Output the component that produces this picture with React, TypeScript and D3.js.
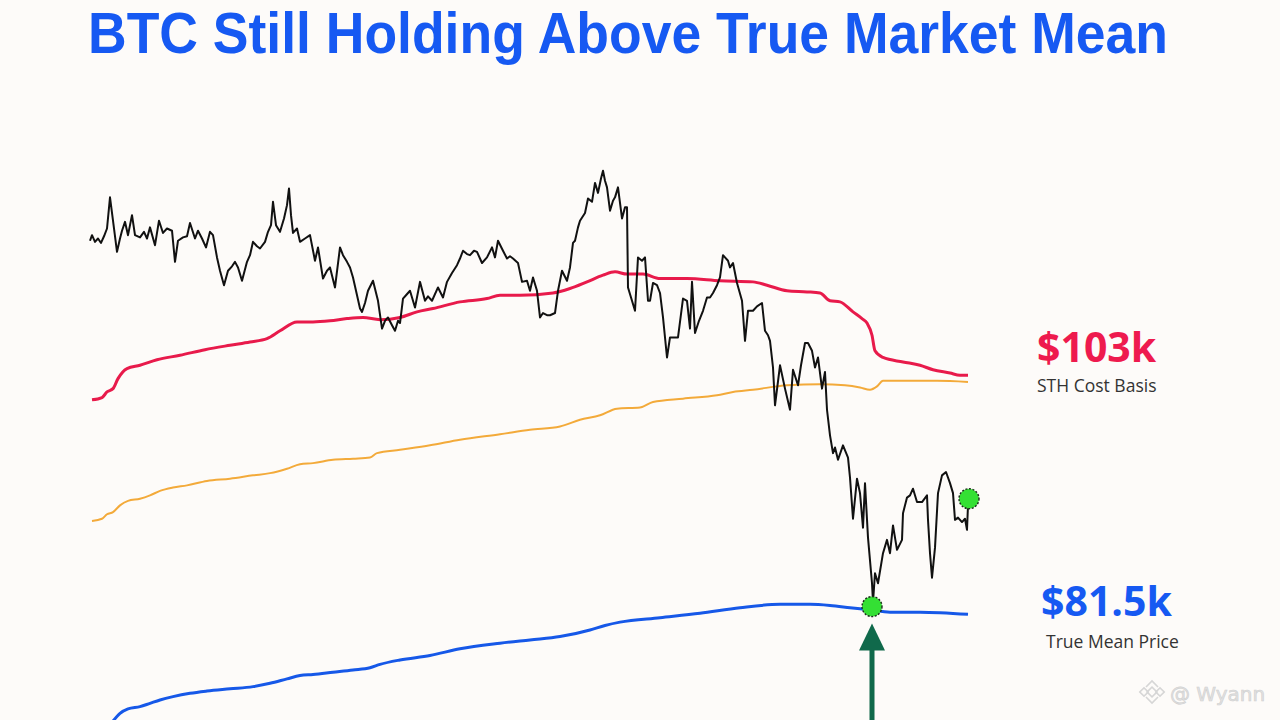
import React from "react";
import * as d3 from "d3";

// t = 8-hour period index, v = price in $k
const priceSeries: [number, number][] = [
  [0, 115.1], [1, 115.6], [2.5, 115.0], [4, 115.3], [5.5, 114.9], [7, 115.5], [8.5, 116.2], [10, 119.0],
  [11.5, 116.9], [13.5, 114.1], [15, 115.3], [16, 116.0], [17.5, 116.8], [19, 115.6], [21, 117.4],
  [22.5, 115.6], [25, 115.4], [27, 115.9], [28.5, 115.3], [30, 116.3], [32.5, 114.7], [34.5, 116.9],
  [36.5, 115.8], [38.5, 116.2], [41, 116.0], [42.5, 113.2], [44, 115.1], [46.5, 115.4], [48.5, 115.5],
  [50, 116.7], [52.5, 115.3], [54, 116.0], [56, 115.3], [58, 114.5], [60, 115.9], [61.5, 115.6],
  [63.5, 113.6], [65, 112.4], [67, 111.1], [69, 112.4], [71, 112.8], [72.5, 113.2], [74, 112.7],
  [76, 111.5], [78.5, 113.2], [80, 113.8], [81.5, 115.0], [83.5, 114.6], [85, 114.4], [87.5, 115.0],
  [89, 115.9], [90.5, 116.5], [91.5, 118.6], [93, 116.5], [95, 115.9], [97, 117.1], [98.5, 118.3],
  [99.5, 119.8], [100.5, 117.4], [101.5, 115.8], [103.5, 116.2], [105, 115.0], [107.5, 115.3],
  [110, 115.6], [112.5, 113.3], [114, 114.5], [116.5, 111.7], [118.5, 112.4], [120, 112.7],
  [122.5, 110.9], [125, 114.5], [126.5, 113.8], [128.5, 113.2], [130, 112.7], [131.5, 111.8],
  [133, 110.6], [135, 109.0], [136, 108.7], [137.5, 109.5], [139, 110.6], [141.5, 111.5], [144, 109.7],
  [146, 107.2], [147.5, 107.9], [149, 108.2], [151, 107.5], [152.5, 107.0], [154, 107.9], [155, 107.7],
  [156.5, 109.9], [158, 110.2], [160, 110.6], [162.5, 109.1], [165, 111.4], [167.5, 109.7],
  [169, 110.1], [171, 109.7], [174, 110.9], [176.5, 110.0], [178.5, 111.4], [181, 112.2],
  [183.5, 112.9], [185, 113.5], [186.5, 114.2], [188.5, 113.9], [190, 113.8], [192, 114.2],
  [193.5, 114.1], [196, 113.1], [198.5, 113.6], [201, 114.5], [202.5, 113.6], [204, 115.1],
  [206.5, 114.2], [208.5, 113.5], [210, 113.7], [211.5, 113.5], [214, 113.1], [216, 111.4],
  [218.5, 111.5], [220, 110.6], [221.5, 111.8], [223.5, 110.6], [225, 108.2], [226.5, 108.6],
  [228.5, 108.4], [230, 108.4], [232.5, 108.6], [234, 110.6], [236, 112.4], [238.5, 111.5],
  [240, 112.7], [241.5, 114.9], [242.5, 115.1], [244, 116.3], [245, 116.9], [247.5, 117.6],
  [249, 118.9], [251, 118.6], [252.5, 120.3], [254, 119.4], [255.5, 120.7], [256.5, 121.4],
  [257.5, 120.5], [258.5, 119.9], [260, 117.8], [261.5, 118.7], [262.5, 119.0], [264, 119.9],
  [266, 117.1], [267.5, 118.1], [268.5, 118.1], [269, 110.9], [271, 109.7], [272.5, 108.8],
  [274, 113.6], [276, 113.3], [277.5, 113.6], [279, 109.7], [280, 109.7], [281.5, 111.3],
  [283.5, 111.1], [285, 110.4], [286.5, 108.2], [288.5, 104.6], [290, 106.4], [292, 106.4],
  [294, 106.4], [296.5, 109.9], [298.5, 109.7], [300, 107.2], [301, 111.4], [302.5, 106.8],
  [304.5, 107.9], [306.5, 108.8], [308.5, 110.0], [310, 110.0], [311.5, 110.4], [313.5, 111.1],
  [315, 111.8], [316.5, 113.8], [317.5, 113.6], [319, 113.3], [320, 112.7], [321.5, 113.1],
  [323.5, 111.3], [326, 109.7], [327.5, 106.1], [329, 108.8], [331.5, 108.8], [333.5, 109.2],
  [336, 109.5], [337.5, 107.0], [339, 106.6], [340, 106.1], [341.5, 103.7], [342.5, 100.3],
  [345, 103.9], [347.5, 101.8], [350, 99.9], [351.5, 103.5], [354, 102.1], [355.5, 103.9],
  [357.5, 105.9], [359, 105.9], [361, 105.2], [362.5, 103.7], [364, 104.6], [366, 101.8],
  [367.5, 103.3], [368.5, 99.9], [370, 97.6], [371.5, 96.0], [372.5, 96.5], [374, 95.4],
  [376.5, 96.7], [379, 95.6], [380, 93.8], [381.5, 90.1], [383.5, 93.7], [385, 92.4], [386.5, 89.3],
  [387.5, 93.3], [389, 88.4], [391, 84.3], [391.5, 82.6], [392.5, 85.2], [394, 84.3], [396.5, 87.0],
  [398.5, 88.2], [400, 87.0], [401.5, 89.5], [403.5, 87.3], [406, 88.2], [406.5, 90.6], [408.5, 92.0],
  [410, 92.2], [411.5, 92.8], [413.5, 91.6], [416, 91.6], [418.5, 92.2], [419, 90.0], [420, 87.0],
  [421, 84.8], [422.5, 87.5], [424, 92.4], [426, 94.0], [428, 94.3], [430, 93.3], [431.5, 92.4],
  [432.5, 90.0], [434, 90.2], [436, 89.8], [437.5, 90.1], [438.5, 89.1], [439, 91.3],
];

const sthCostBasis: [number, number][] = [
  [1, 100.8], [6, 101.0], [8.5, 101.5], [11.5, 101.8], [14, 102.7], [18.5, 103.6], [25, 103.9],
  [33.5, 104.4], [45, 104.8], [57.5, 105.3], [70, 105.7], [80, 106.0], [88.5, 106.3], [95, 107.0],
  [103.5, 107.8], [111.5, 107.8], [120, 107.9], [128.5, 108.1], [136.5, 108.2], [145, 108.0],
  [155, 108.2], [163.5, 108.7], [171.5, 109.0], [185, 109.6], [198.5, 109.9], [205, 110.2],
  [215, 110.2], [231.5, 110.4], [240, 110.8], [248.5, 111.4], [256.5, 112.0], [262.5, 112.3],
  [268.5, 112.1], [276.5, 112.1], [285, 111.7], [298.5, 111.7], [315, 111.5], [331.5, 111.4],
  [338.5, 111.1], [348.5, 110.6], [358.5, 110.5], [365, 110.4], [370, 109.7], [375, 109.6],
  [381.5, 108.7], [386, 108.1], [388.5, 107.7], [391, 106.6], [392.5, 105.2], [396.5, 104.6],
  [406.5, 104.2], [415, 103.9], [421.5, 103.5], [430, 103.2], [435, 103.0], [439, 103.0],
];

const midBand: [number, number][] = [
  [1, 89.9], [6, 90.1], [8.5, 90.5], [11.5, 90.7], [15, 91.3], [19, 91.7], [25, 91.9], [30, 92.2],
  [35, 92.6], [41.5, 92.9], [48.5, 93.1], [58.5, 93.5], [70, 93.7], [81.5, 94.0], [90, 94.2],
  [98.5, 94.6], [105, 95.0], [111.5, 95.1], [121.5, 95.4], [131.5, 95.5], [140, 95.6], [143.5, 96.0],
  [155, 96.3], [170, 96.7], [185, 97.2], [205, 97.7], [220, 98.1], [235, 98.4], [245, 99.0],
  [255, 99.4], [263.5, 100.0], [275, 100.1], [281.5, 100.6], [296.5, 100.9], [313.5, 101.2],
  [321.5, 101.5], [331.5, 101.7], [348.5, 102.1], [365, 102.2], [377.5, 102.1], [385, 101.9],
  [390, 101.7], [393.5, 102.0], [396.5, 102.5], [406.5, 102.5], [423.5, 102.5], [439, 102.4],
];

const trueMeanPrice: [number, number][] = [
  [11.5, 71.9], [15, 72.6], [19, 73.0], [25, 73.2], [30, 73.5], [35, 73.8], [41.5, 74.1], [50, 74.4],
  [58.5, 74.6], [70, 74.8], [81.5, 75.0], [90, 75.3], [98.5, 75.7], [105, 76.0], [111.5, 76.1],
  [121.5, 76.3], [131.5, 76.5], [140, 76.7], [145, 77.0], [155, 77.4], [170, 77.8], [185, 78.4],
  [205, 78.9], [220, 79.2], [235, 79.5], [250, 80.1], [257.5, 80.5], [265, 80.8], [285, 81.2],
  [305, 81.6], [325, 82.1], [345, 82.4], [360, 82.4], [370, 82.3], [380, 82.1], [390, 81.9],
  [400, 81.7], [415, 81.7], [439, 81.5],
];

const markerPoints: [number, number][] = [
  [391, 82.2],
  [439.5, 91.9],
];

const titleText = "BTC Still Holding Above True Market Mean";
const sthValueLabel = "$103k";
const sthNameLabel = "STH Cost Basis";
const meanValueLabel = "$81.5k";
const meanNameLabel = "True Mean Price";
const watermarkText = "@ Wyann";

const W = 1280;
const H = 720;

export default function App() {
  const x = d3.scaleLinear().domain([0, 439]).range([90, 968]);
  const y = d3.scaleLinear().domain([72, 122]).range([720, 164]);

  const line = d3
    .line<[number, number]>()
    .x((d) => x(d[0]))
    .y((d) => y(d[1]));
  const smooth = d3
    .line<[number, number]>()
    .x((d) => x(d[0]))
    .y((d) => y(d[1]))
    .curve(d3.curveMonotoneX);

  const lowX = x(markerPoints[0][0]);
  const lowY = y(markerPoints[0][1]);
  const arrowTip = lowY + 17;
  const arrowBase = arrowTip + 27;

  return (
    <svg
      width={W}
      height={H}
      viewBox={`0 0 ${W} ${H}`}
      style={{ position: "fixed", left: 0, top: 0, display: "block" }}
    >
      <defs>
        <clipPath id="plotclip">
          <rect x={0} y={0} width={W} height={H} />
        </clipPath>
      </defs>
      <rect x={0} y={0} width={W} height={H} fill="#fdfbf9" />

      <text
        x={88}
        y={53}
        fontFamily="'Liberation Sans Narrow', 'Liberation Sans', sans-serif"
        fontWeight={700}
        fontSize={57}
        fill="#1659f2"
        textLength={1080}
        lengthAdjust="spacingAndGlyphs"
      >
        {titleText}
      </text>

      <g clipPath="url(#plotclip)">
        <path d={smooth(midBand) || ""} fill="none" stroke="#f3aa3a" strokeWidth={2} />
        <path d={smooth(trueMeanPrice) || ""} fill="none" stroke="#1658e8" strokeWidth={3} />
        <path d={smooth(sthCostBasis) || ""} fill="none" stroke="#e81a4b" strokeWidth={3} />
        <path
          d={line(priceSeries) || ""}
          fill="none"
          stroke="#111"
          strokeWidth={2}
          strokeLinejoin="round"
        />
      </g>

      {markerPoints.map((m, i) => (
        <circle
          key={i}
          cx={x(m[0])}
          cy={y(m[1])}
          r={10}
          fill="#34e034"
          stroke="#1a2a1a"
          strokeWidth={1.4}
          strokeDasharray="2,1.6"
        />
      ))}

      {/* arrow */}
      <rect x={lowX - 2.5} y={arrowBase - 1} width={5} height={H - arrowBase + 1} fill="#10694b" />
      <path
        d={`M${lowX},${arrowTip} L${lowX + 13},${arrowBase} L${lowX - 13},${arrowBase} Z`}
        fill="#10694b"
      />

      {/* right labels */}
      <text
        x={1037}
        y={362}
        fontFamily="'Open Sans', 'Noto Sans', sans-serif"
        fontWeight={700}
        fontSize={41}
        fill="#ee1a4e"
      >
        {sthValueLabel}
      </text>
      <text x={1037} y={392} fontFamily="'Open Sans', sans-serif" fontSize={17.5} fill="#333">
        {sthNameLabel}
      </text>
      <text
        x={1041}
        y={616}
        fontFamily="'Open Sans', 'Noto Sans', sans-serif"
        fontWeight={700}
        fontSize={41}
        fill="#1659f2"
      >
        {meanValueLabel}
      </text>
      <text x={1046} y={648} fontFamily="'Open Sans', sans-serif" fontSize={17.5} fill="#333">
        {meanNameLabel}
      </text>

      {/* watermark */}
      <g transform="translate(1152,692)" fill="none" stroke="#d6d6d6" strokeWidth={1.6}>
        <rect x={-3.5} y={-3.5} width={7} height={7} transform="rotate(45)" />
        <rect x={-3} y={-3} width={6} height={6} transform="translate(-8,0) rotate(45)" />
        <rect x={-3} y={-3} width={6} height={6} transform="translate(8,0) rotate(45)" />
        <path d="M-6,-5 L0,-11 L6,-5" />
        <path d="M-6,5 L0,11 L6,5" />
      </g>
      <text
        x={1170}
        y={701}
        fontFamily="'DejaVu Sans', sans-serif"
        fontSize={20}
        fill="#e2e2e2"
        stroke="#cfcfcf"
        strokeWidth={0.6}
      >
        {watermarkText}
      </text>
    </svg>
  );
}
